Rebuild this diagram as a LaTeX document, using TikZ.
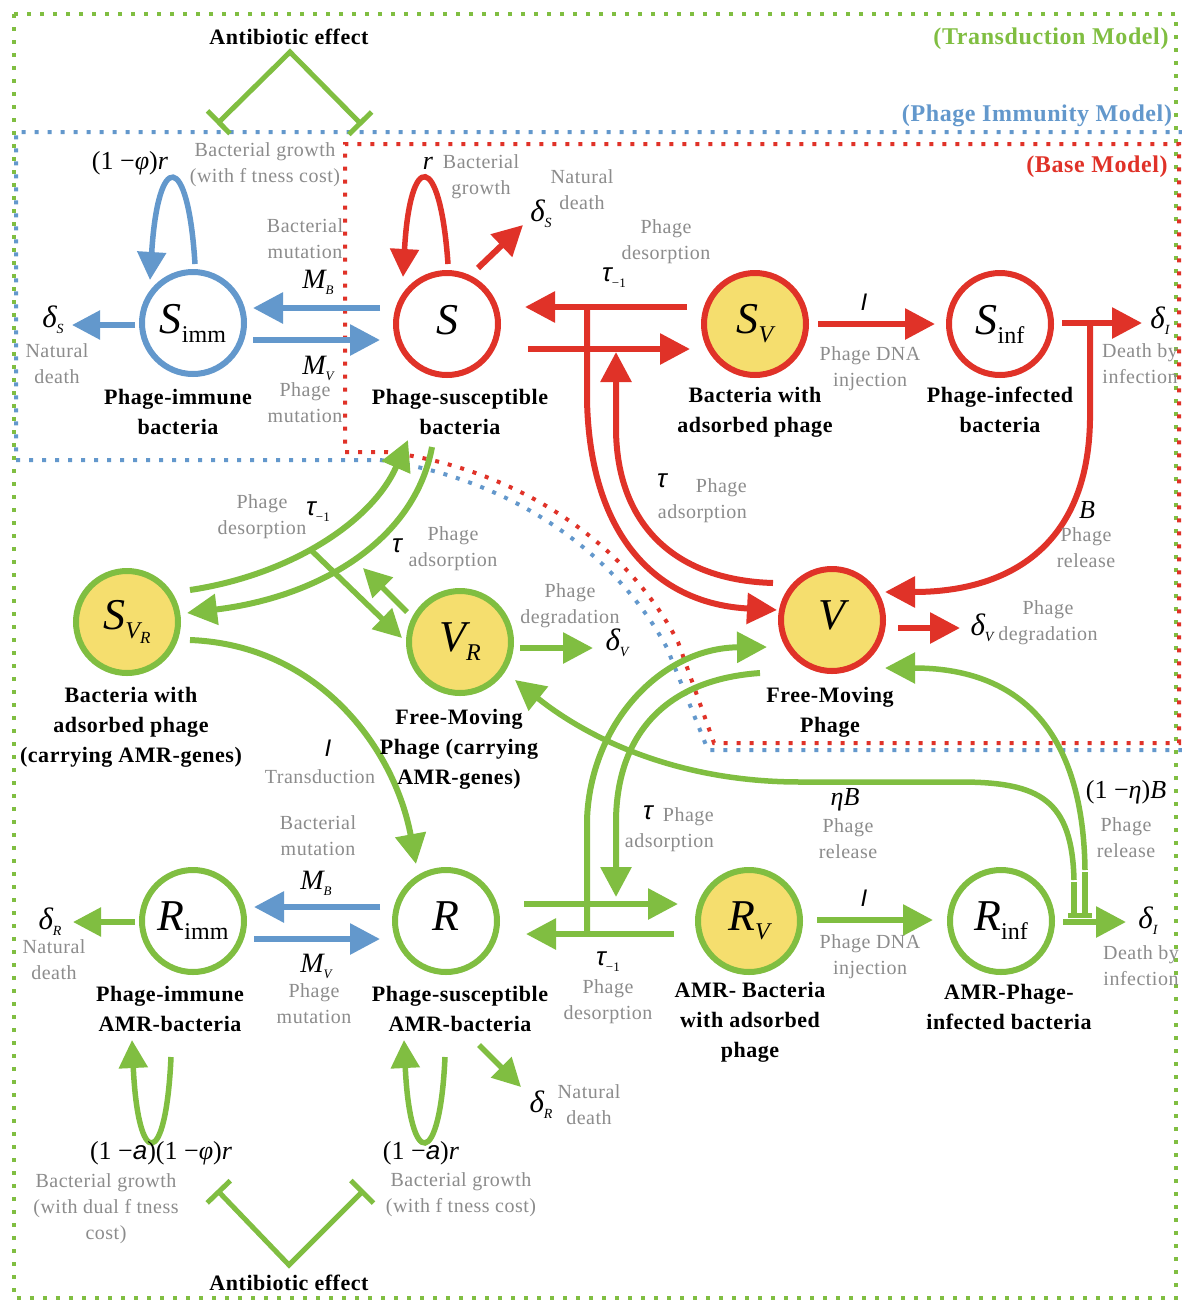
\documentclass[tikz,border=0pt]{standalone}
\usepackage{fontspec}
\setmainfont{Liberation Serif}
\newfontfamily\lblfont{Liberation Serif}[LetterSpace=2.5]
\newfontfamily\sansf{Liberation Sans}
\usetikzlibrary{arrows.meta}
\definecolor{cred}{RGB}{224,50,40}
\definecolor{cblue}{RGB}{99,152,204}
\definecolor{cgreen}{RGB}{128,190,65}
\definecolor{cyel}{RGB}{245,222,110}
\definecolor{cgray}{RGB}{140,140,140}
\newcommand\nsym[2]{{\fontsize{44}{44}\selectfont\itshape #1}\raisebox{-9pt}{\fontsize{24}{24}\selectfont #2}}
\newcommand\rsym[2]{{\fontsize{31}{31}\selectfont\itshape #1}\raisebox{-6pt}{\fontsize{14}{14}\selectfont\itshape #2}}
\newcommand\tsym{{\sansf\fontsize{26}{26}\selectfont\itshape τ}}
\newcommand\tmsym{\tsym\raisebox{-6pt}{\fontsize{13}{13}\selectfont −1}}
\newcommand\isym{{\sansf\fontsize{24}{24}\selectfont\itshape I}}
\newcommand\msym[1]{{\fontsize{28}{28}\selectfont\itshape M}\raisebox{-6pt}{\fontsize{13}{13}\selectfont\itshape #1}}
\newcommand\fsz{\fontsize{26}{26}\selectfont}
\begin{document}
\begin{tikzpicture}[x=1pt,y=-1pt,
 cnode/.style={circle,minimum size=102pt,line width=6pt,inner sep=0pt},
 lbl/.style={font=\lblfont\bfseries\fontsize{22}{30}\selectfont,align=center,inner sep=0pt},
 gry/.style={font=\lblfont\fontsize{20}{26}\selectfont,text=cgray,align=center,inner sep=0pt},
 sym/.style={inner sep=0pt},
 arr/.style={line width=6pt,-{Triangle[length=30pt,width=30pt]}},
 thinarr/.style={line width=5.5pt,-{Triangle[length=28pt,width=28pt]}},
 inh/.style={line width=5pt,{Bar[width=32pt]}-{Bar[width=32pt]}},
 brbar/.style={line width=5.5pt,-{Bar[width=13pt]}},
 frame/.style={line width=4pt,dash pattern=on 4pt off 9pt},
 mdl/.style={font=\lblfont\bfseries\fontsize{24}{24}\selectfont,inner sep=0pt},
]
\useasboundingbox[fill=white] (0,0) rectangle (1182,1301);

% ---------- model frames ----------
\draw[frame,cgreen] (14,14) rectangle (1176,1298);
\draw[frame,cblue] (16,460) -- (380,460) .. controls (520,480) and (620,560) .. (667,648) -- (708,750) -- (1190,750) -- (1190,132) -- (16,132) -- cycle;
\draw[frame,cred] (345,452) -- (387,452) .. controls (528,470) and (632,552) .. (678,642) -- (714,743) -- (1179,743) -- (1179,144) -- (345,144) -- cycle;
\node[mdl,text=cgreen] (mT) at (1051,39) {(Transduction Model)};
\node[mdl,text=cblue] (mP) at (1037,116) {(Phage Immunity Model)};
\node[mdl,text=cred] (mB) at (1097,167) {(Base Model)};

% ---------- compartments ----------
\node[cnode,draw=cblue] (Simm) at (193,323) {\nsym{S}{imm}};
\node[cnode,draw=cred] (S) at (447,324) {\nsym{S}{}};
\node[cnode,draw=cred,fill=cyel] (SV) at (755,324) {\nsym{S}{\itshape V}};
\node[cnode,draw=cred] (Sinf) at (1000,324) {\nsym{S}{inf}};
\node[cnode,draw=cgreen,fill=cyel] (SVR) at (127,622) {\nsym{S}{\itshape V\raisebox{-5pt}{\fontsize{17}{17}\selectfont R}}};
\node[cnode,draw=cgreen,fill=cyel] (VR) at (460,642) {\nsym{V}{\itshape R}};
\node[cnode,draw=cred,fill=cyel] (V) at (832,620) {\nsym{V}{}};
\node[cnode,draw=cgreen] (Rimm) at (193,921) {\nsym{R}{imm}};
\node[cnode,draw=cgreen] (R) at (446,921) {\nsym{R}{}};
\node[cnode,draw=cgreen,fill=cyel] (RV) at (749,921) {\nsym{R}{\itshape V}};
\node[cnode,draw=cgreen] (Rinf) at (1001,921) {\nsym{R}{inf}};

% ---------- connector end points ----------
\foreach \n/\x/\y in {lpS1/195/264, lpS2/150/280, dS1/135/325, dS2/72/325,
  mb1/380/308, mb2/253/308, mv1/253/340, mv2/380/340,
  lp1/448/264, lp2/403/277, ds1/478/268, ds2/523/225,
  de1/687/307, de2/525/307, ad1/528/349, ad2/690/349,
  jn1/587/307, vin1/777/610, va1/773/583, va2/616/352,
  in1/818/324, in2/935/324, di1/1062/323, di2/1142/323,
  rj1/1090/323, rv/885/592, dv1/898/628, dv2/960/628,
  gd1/190/590, gd2/408/440, ga1/432/447, ga2/187/613,
  gb1/312/551, gb2/402/638, gr1/407/612, gr2/363/568,
  gv1/520/648, gv2/593/648, gt1/190/640, gt2/416/864,
  rr1/524/904, rr2/678/904, rd1/674/934, rd2/526/934,
  gj1/587/934, gv/767/647, gva1/760/673, gva2/616/897,
  ri1/817/920, ri2/933/920, rdi1/1063/922, rdi2/1126/922,
  eb1/1074/918, evr/515/680, eb2/1085/918, ev/885/668,
  rmb1/380/907, rmb2/254/907, rmv1/254/939, rmv2/380/939,
  rdR1/135/922, rdR2/73/922, lpR1/171/1057, lpR2/132/1040,
  lpRR1/445/1057, lpRR2/404/1040, rdd1/479/1045, rdd2/521/1087,
  abT/290/52, abTL/217/124, abTR/362/125,
  abB/289/1265, abBL/217/1190, abBR/364/1190}
  \coordinate (\n) at (\x,\y);

% ---------- blue connectors ----------
\draw[thinarr,cblue] (lpS1) .. controls (188,150) and (158,150) .. (lpS2);
\draw[thinarr,cblue] (dS1) -- (dS2);
\draw[arr,cblue] (mb1) -- (mb2);
\draw[arr,cblue] (mv1) -- (mv2);
\draw[arr,cblue] (rmb1) -- (rmb2);
\draw[arr,cblue] (rmv1) -- (rmv2);

% ---------- red connectors ----------
\draw[thinarr,cred] (lp1) .. controls (440,150) and (410,150) .. (lp2);
\draw[arr,cred] (ds1) -- (ds2);
\draw[arr,cred] (de1) -- (de2);
\draw[arr,cred] (ad1) -- (ad2);
\draw[arr,cred] (jn1) -- (587,400) .. controls (590,540) and (660,604) .. (vin1);
\draw[arr,cred] (va1) .. controls (670,580) and (617,520) .. (616,430) -- (va2);
\draw[arr,cred] (in1) -- (in2);
\draw[arr,cred] (di1) -- (di2);
\draw[arr,cred] (rj1) -- (1090,420) .. controls (1088,545) and (1010,592) .. (rv);
\draw[arr,cred] (dv1) -- (dv2);

% ---------- green connectors ----------
\draw[arr,cgreen] (gd1) .. controls (290,575) and (372,522) .. (gd2);
\draw[arr,cgreen] (ga1) .. controls (415,540) and (320,597) .. (ga2);
\draw[thinarr,cgreen] (gb1) -- (gb2);
\draw[thinarr,cgreen] (gr1) -- (gr2);
\draw[arr,cgreen] (gv1) -- (gv2);
\draw[arr,cgreen] (gt1) .. controls (320,645) and (395,750) .. (gt2);
\draw[arr,cgreen] (rr1) -- (rr2);
\draw[arr,cgreen] (rd1) -- (rd2);
\draw[arr,cgreen] (gj1) -- (587,820) .. controls (590,725) and (660,648) .. (gv);
\draw[arr,cgreen] (gva1) .. controls (660,680) and (617,740) .. (616,820) -- (gva2);
\draw[arr,cgreen] (ri1) -- (ri2);
\draw[arr,cgreen] (rdi1) -- (rdi2);
\draw[arr,cgreen,line width=5.5pt] (1074,880) .. controls (1072,800) and (1040,782) .. (960,782) -- (800,782) .. controls (680,782) and (590,740) .. (evr);
\draw[brbar,cgreen] (1074,882) -- (eb1);
\draw[arr,cgreen,line width=5.5pt] (1085,870) .. controls (1083,720) and (1010,668) .. (ev);
\draw[brbar,cgreen] (1085,872) -- (eb2);
\draw[thinarr,cgreen] (rdR1) -- (rdR2);
\draw[thinarr,cgreen] (lpR1) .. controls (166,1170) and (138,1170) .. (lpR2);
\draw[thinarr,cgreen] (lpRR1) .. controls (440,1170) and (410,1170) .. (lpRR2);
\draw[thinarr,cgreen] (rdd1) -- (rdd2);

% ---------- antibiotic effect ----------
\draw[inh,cgreen] (abTL) -- (abT) -- (abTR);
\draw[inh,cgreen] (abBL) -- (abB) -- (abBR);
\node[lbl] (ab1) at (289,37) {Antibiotic effect};
\node[lbl] (ab2) at (289,1283) {Antibiotic effect};

% ---------- bold compartment labels ----------
\node[lbl] (l1) at (178,412) {Phage-immune\\bacteria};
\node[lbl] (l2) at (460,412) {Phage-susceptible\\bacteria};
\node[lbl] (l3) at (755,412) {Bacteria with\\adsorbed phage};
\node[lbl] (l4) at (1000,410) {Phage-infected\\bacteria};
\node[lbl] (l5) at (131,727) {Bacteria with\\adsorbed phage\\(carrying AMR-genes)};
\node[lbl] (l6) at (459,749) {Free-Moving\\Phage (carrying\\AMR-genes)};
\node[lbl] (l7) at (830,712) {Free-Moving\\Phage};
\node[lbl] (l8) at (170,1009) {Phage-immune\\AMR-bacteria};
\node[lbl] (l9) at (460,1009) {Phage-susceptible\\AMR-bacteria};
\node[lbl] (l10) at (750,1022) {AMR- Bacteria\\with adsorbed\\phage};
\node[lbl] (l11) at (1009,1007) {AMR-Phage-\\infected bacteria};

% ---------- gray process labels ----------
\node[gry] (g1) at (265,165) {Bacterial growth\\(with f tness cost)};
\node[gry] (g2) at (305,239) {Bacterial\\mutation};
\node[gry] (g3) at (305,403) {Phage\\mutation};
\node[gry] (g4) at (57,364) {Natural\\death};
\node[gry] (g5) at (481,177) {Bacterial\\growth};
\node[gry] (g6) at (582,190) {Natural\\death};
\node[gry] (g7) at (666,242) {Phage\\desorption};
\node[gry] (g8) at (870,369) {Phage DNA\\injection};
\node[gry] (g9) at (1140,364) {Death by\\infection};
\node[gry,align=right,anchor=east] (g10) at (747,501) {Phage\\adsorption};
\node[gry] (g11) at (1086,548) {Phage\\release};
\node[gry] (g12) at (1048,623) {Phage\\degradation};
\node[gry] (g13) at (262,517) {Phage\\desorption};
\node[gry] (g14) at (453,549) {Phage\\adsorption};
\node[gry] (g15) at (570,606) {Phage\\degradation};
\node[gry] (g16) at (320,777) {Transduction};
\node[gry] (g17) at (848,839) {Phage\\release};
\node[gry] (g18) at (1126,838) {Phage\\release};
\node[gry,align=right,anchor=east] (g19) at (714,830) {Phage\\adsorption};
\node[gry] (g20) at (608,1002) {Phage\\desorption};
\node[gry] (g21) at (870,957) {Phage DNA\\injection};
\node[gry] (g22) at (1141,966) {Death by\\infection};
\node[gry] (g23) at (318,836) {Bacterial\\mutation};
\node[gry] (g24) at (314,1004) {Phage\\mutation};
\node[gry] (g25) at (54,960) {Natural\\death};
\node[gry] (g26) at (589,1105) {Natural\\death};
\node[gry] (g27) at (106,1209) {Bacterial growth\\(with dual f tness\\cost)};
\node[gry] (g28) at (461,1195) {Bacterial growth\\(with f tness cost)};

% ---------- rate symbols ----------
\node[sym] (f1) at (130,163) {\fsz(1 −\textit{φ})\textit{r}};
\node[sym] (s1) at (53,320) {\rsym{δ}{S}};
\node[sym] (s2) at (318,282) {\msym{B}};
\node[sym] (s3) at (318,368) {\msym{V}};
\node[sym] (s4) at (428,163) {\fsz\textit{r}};
\node[sym] (s5) at (541,214) {\rsym{δ}{S}};
\node[sym] (s6) at (614,278) {\tmsym};
\node[sym] (s7) at (864,302) {\isym};
\node[sym] (s8) at (1160,321) {\rsym{δ}{I}};
\node[sym] (s9) at (662,481) {\tsym};
\node[sym] (s10) at (1087,510) {\fsz\textit{B}};
\node[sym] (s11) at (982,628) {\rsym{δ}{V}};
\node[sym] (s12) at (318,512) {\tmsym};
\node[sym] (s13) at (397,546) {\tsym};
\node[sym] (s14) at (617,643) {\rsym{δ}{V}};
\node[sym] (s15) at (328,748) {\isym};
\node[sym] (s16) at (845,800) {\fsz\textit{ηB}};
\node[sym] (s17) at (1126,792) {\fsz(1 −\textit{η})\textit{B}};
\node[sym] (s18) at (648,813) {\tsym};
\node[sym] (s19) at (608,962) {\tmsym};
\node[sym] (s20) at (864,898) {\isym};
\node[sym] (s21) at (1148,921) {\rsym{δ}{I}};
\node[sym] (s22) at (316,883) {\msym{B}};
\node[sym] (s23) at (316,966) {\msym{V}};
\node[sym] (s24) at (50,922) {\rsym{δ}{R}};
\node[sym] (s25) at (541,1105) {\rsym{δ}{R}};
\node[sym] (f2) at (161,1153) {\fsz(1 −{\sansf\itshape a})(1 −\textit{φ})\textit{r}};
\node[sym] (f3) at (421,1153) {\fsz(1 −{\sansf\itshape a})\textit{r}};
\end{tikzpicture}
\end{document}
